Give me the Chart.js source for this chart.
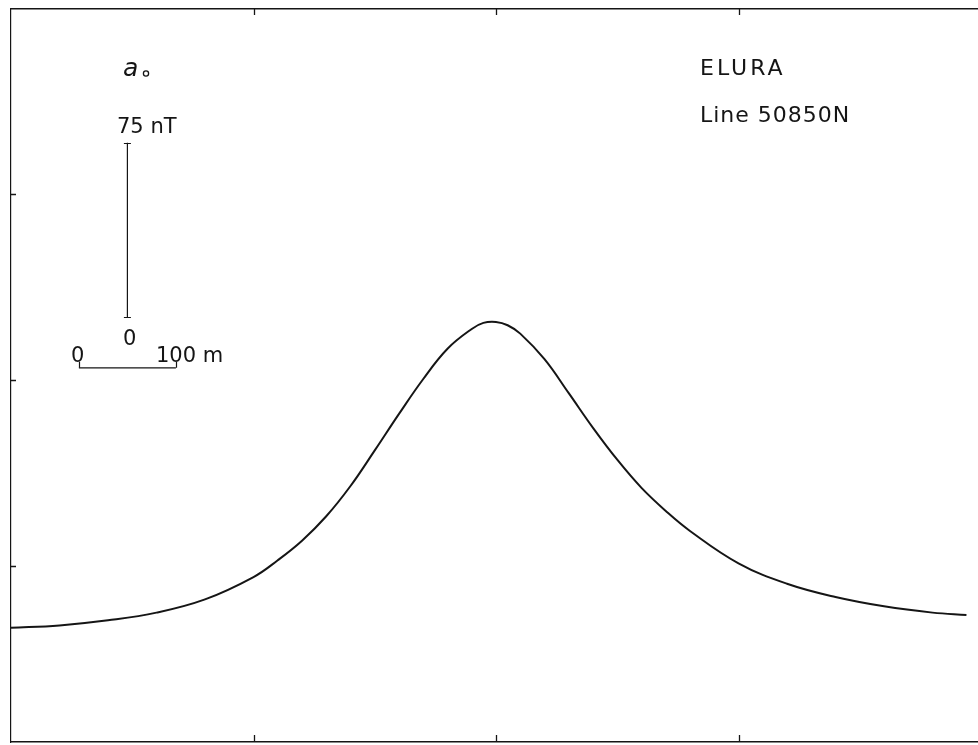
<!DOCTYPE html>
<html>
<head>
<meta charset="utf-8">
<script src="https://cdn.jsdelivr.net/npm/chart.js@4/dist/chart.umd.min.js"></script>
<style>
  html, body { margin: 0; padding: 0; background: #fff; overflow: hidden; }
  #wrap { width: 990px; height: 745px; position: relative; }
</style>
</head>
<body>
<div id="wrap"><canvas id="profile"></canvas></div>
<script>
// profile along line 50850N: distance (m) and total field anomaly (nT)
const distance = [0, 50, 100, 150, 200, 250, 275, 300, 325, 350, 375, 400, 425, 450, 475, 487, 500, 512, 525, 550, 575, 600, 625, 650, 675, 700, 750, 800, 850, 900, 950, 985];
const anomaly = [-26.4, -25.4, -23.2, -19.9, -14.2, -4.6, 2.6, 11.0, 21.5, 34.5, 49.8, 65.5, 80.5, 93.5, 102.0, 104.6, 105.0, 103.6, 100.0, 89.0, 74.4, 59.5, 45.8, 33.7, 23.8, 15.2, 1.3, -7.5, -13.2, -17.2, -19.9, -20.9];

// frame tick marks
const xTicks = [250, 500, 750];
const yTicks = [0, 80, 160];

// scale bars: 75 nT vertical, 100 m horizontal
const nTBarX = [120, 120];
const nTBarY = [107, 182];
const mBarX = [70, 170];
const mBarY = [85.3, 85.3];

const panelLabel = 'a';
const areaName = 'ELURA';
const lineName = 'Line 50850N';
const nTLabels = ['75 nT', '0'];
const mLabels = ['0', '100 m'];

const ink = '#151515';

function toPoints(xs, ys) {
  return xs.map((x, i) => ({ x: x, y: ys[i] }));
}

// inward tick marks, scale bar caps and the text annotations
const plotNotes = {
  id: 'plotNotes',
  afterDraw(chart) {
    const ctx = chart.ctx;
    const area = chart.chartArea;
    const xs = chart.scales.x;
    const ys = chart.scales.y;

    ctx.save();
    ctx.strokeStyle = ink;
    ctx.lineWidth = 1.3;
    ctx.beginPath();
    xTicks.forEach(v => {
      const px = Math.round(xs.getPixelForValue(v)) + 0.5;
      ctx.moveTo(px, area.top);
      ctx.lineTo(px, area.top + 6);
      ctx.moveTo(px, area.bottom);
      ctx.lineTo(px, area.bottom - 7);
    });
    yTicks.forEach(v => {
      const py = Math.round(ys.getPixelForValue(v)) + 0.5;
      ctx.moveTo(area.left, py);
      ctx.lineTo(area.left + 5, py);
    });
    ctx.stroke();

    // caps on the scale bars
    ctx.lineWidth = 1.2;
    ctx.beginPath();
    nTBarY.forEach(v => {
      const px = xs.getPixelForValue(nTBarX[0]);
      const py = Math.round(ys.getPixelForValue(v)) + 0.5;
      ctx.moveTo(px - 3.5, py);
      ctx.lineTo(px + 3.5, py);
    });
    mBarX.forEach(v => {
      const px = Math.round(xs.getPixelForValue(v)) + 0.5;
      const py = ys.getPixelForValue(mBarY[0]);
      ctx.moveTo(px, py);
      ctx.lineTo(px, py - 6);
    });
    ctx.stroke();

    ctx.fillStyle = ink;
    ctx.textBaseline = 'alphabetic';
    ctx.textAlign = 'left';

    // panel label with a small ring after it
    ctx.font = 'italic 25px "DejaVu Sans"';
    ctx.fillText(panelLabel, 123, 76);
    ctx.beginPath();
    ctx.arc(146, 73.5, 2.6, 0, Math.PI * 2);
    ctx.lineWidth = 1.3;
    ctx.stroke();

    ctx.font = '22px "DejaVu Sans"';
    ctx.letterSpacing = '3px';
    ctx.fillText(areaName, 700, 75);
    ctx.letterSpacing = '1px';
    ctx.fillText(lineName, 700, 122);

    ctx.letterSpacing = '0px';
    ctx.font = '21px "DejaVu Sans"';
    ctx.fillText(nTLabels[0], 117, 133);
    ctx.fillText(nTLabels[1], 123, 345);
    ctx.fillText(mLabels[0], 71, 362);
    ctx.fillText(mLabels[1], 156, 362);
    ctx.restore();
  }
};

const frameGrid = { display: true, drawOnChartArea: false, drawTicks: false };
const frameBorder = { display: true, color: ink, width: 1.4 };

new Chart(document.getElementById('profile'), {
  type: 'line',
  data: {
    datasets: [
      {
        data: toPoints(distance, anomaly),
        borderColor: ink,
        borderWidth: 2,
        pointRadius: 0,
        tension: 0.4,
        fill: false
      },
      {
        data: toPoints(nTBarX, nTBarY),
        borderColor: ink,
        borderWidth: 1.2,
        pointRadius: 0,
        tension: 0
      },
      {
        data: toPoints(mBarX, mBarY),
        borderColor: ink,
        borderWidth: 1.3,
        pointRadius: 0,
        tension: 0
      }
    ]
  },
  options: {
    responsive: true,
    maintainAspectRatio: false,
    animation: false,
    layout: { padding: { left: 11, top: 9, right: 9, bottom: 3 } },
    plugins: {
      legend: { display: false },
      tooltip: { enabled: false }
    },
    scales: {
      x: {
        type: 'linear',
        position: 'bottom',
        min: 0,
        max: 1000,
        grid: frameGrid,
        border: frameBorder,
        ticks: { display: false, stepSize: 250 }
      },
      x2: {
        type: 'linear',
        position: 'top',
        min: 0,
        max: 1000,
        grid: frameGrid,
        border: frameBorder,
        ticks: { display: false }
      },
      y: {
        type: 'linear',
        position: 'left',
        min: -75.5,
        max: 239.5,
        grid: frameGrid,
        border: { display: true, color: ink, width: 1.2 },
        ticks: { display: false, stepSize: 80 }
      }
    }
  },
  plugins: [plotNotes]
});
</script>
</body>
</html>
